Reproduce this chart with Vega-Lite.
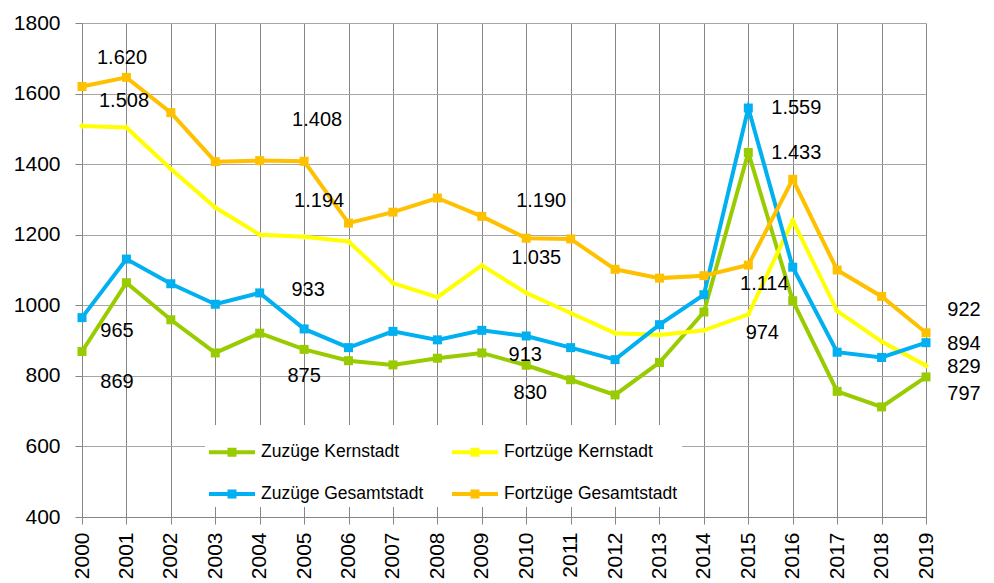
{
  "$schema": "https://vega.github.io/schema/vega-lite/v6.json",
  "autosize": {"type": "none"},
  "padding": {"left": 82, "top": 23, "right": 68, "bottom": 66},
  "width": 844,
  "height": 494,
  "background": "white",
  "config": {
    "locale": {"number": {"decimal": ",", "thousands": ".", "grouping": [3], "currency": ["", " €"]}},
    "font": "Liberation Sans",
    "view": {"stroke": null}
  },
  "data": {
    "values": [
      {"year": "2000", "series": "Zuzüge Kernstadt", "value": 869},
      {"year": "2001", "series": "Zuzüge Kernstadt", "value": 1064},
      {"year": "2002", "series": "Zuzüge Kernstadt", "value": 959},
      {"year": "2003", "series": "Zuzüge Kernstadt", "value": 865},
      {"year": "2004", "series": "Zuzüge Kernstadt", "value": 921},
      {"year": "2005", "series": "Zuzüge Kernstadt", "value": 875},
      {"year": "2006", "series": "Zuzüge Kernstadt", "value": 843},
      {"year": "2007", "series": "Zuzüge Kernstadt", "value": 831},
      {"year": "2008", "series": "Zuzüge Kernstadt", "value": 850},
      {"year": "2009", "series": "Zuzüge Kernstadt", "value": 865},
      {"year": "2010", "series": "Zuzüge Kernstadt", "value": 830},
      {"year": "2011", "series": "Zuzüge Kernstadt", "value": 789},
      {"year": "2012", "series": "Zuzüge Kernstadt", "value": 746},
      {"year": "2013", "series": "Zuzüge Kernstadt", "value": 838},
      {"year": "2014", "series": "Zuzüge Kernstadt", "value": 981},
      {"year": "2015", "series": "Zuzüge Kernstadt", "value": 1433},
      {"year": "2016", "series": "Zuzüge Kernstadt", "value": 1013},
      {"year": "2017", "series": "Zuzüge Kernstadt", "value": 756},
      {"year": "2018", "series": "Zuzüge Kernstadt", "value": 712},
      {"year": "2019", "series": "Zuzüge Kernstadt", "value": 797},
      {"year": "2000", "series": "Fortzüge Kernstadt", "value": 1508},
      {"year": "2001", "series": "Fortzüge Kernstadt", "value": 1504},
      {"year": "2002", "series": "Fortzüge Kernstadt", "value": 1386},
      {"year": "2003", "series": "Fortzüge Kernstadt", "value": 1277},
      {"year": "2004", "series": "Fortzüge Kernstadt", "value": 1200},
      {"year": "2005", "series": "Fortzüge Kernstadt", "value": 1194},
      {"year": "2006", "series": "Fortzüge Kernstadt", "value": 1181},
      {"year": "2007", "series": "Fortzüge Kernstadt", "value": 1063},
      {"year": "2008", "series": "Fortzüge Kernstadt", "value": 1023},
      {"year": "2009", "series": "Fortzüge Kernstadt", "value": 1113},
      {"year": "2010", "series": "Fortzüge Kernstadt", "value": 1035},
      {"year": "2011", "series": "Fortzüge Kernstadt", "value": 978},
      {"year": "2012", "series": "Fortzüge Kernstadt", "value": 921},
      {"year": "2013", "series": "Fortzüge Kernstadt", "value": 916},
      {"year": "2014", "series": "Fortzüge Kernstadt", "value": 929},
      {"year": "2015", "series": "Fortzüge Kernstadt", "value": 974},
      {"year": "2016", "series": "Fortzüge Kernstadt", "value": 1240},
      {"year": "2017", "series": "Fortzüge Kernstadt", "value": 984},
      {"year": "2018", "series": "Fortzüge Kernstadt", "value": 897},
      {"year": "2019", "series": "Fortzüge Kernstadt", "value": 829},
      {"year": "2000", "series": "Zuzüge Gesamtstadt", "value": 965},
      {"year": "2001", "series": "Zuzüge Gesamtstadt", "value": 1131},
      {"year": "2002", "series": "Zuzüge Gesamtstadt", "value": 1061},
      {"year": "2003", "series": "Zuzüge Gesamtstadt", "value": 1003},
      {"year": "2004", "series": "Zuzüge Gesamtstadt", "value": 1035},
      {"year": "2005", "series": "Zuzüge Gesamtstadt", "value": 933},
      {"year": "2006", "series": "Zuzüge Gesamtstadt", "value": 880},
      {"year": "2007", "series": "Zuzüge Gesamtstadt", "value": 926},
      {"year": "2008", "series": "Zuzüge Gesamtstadt", "value": 902},
      {"year": "2009", "series": "Zuzüge Gesamtstadt", "value": 929},
      {"year": "2010", "series": "Zuzüge Gesamtstadt", "value": 913},
      {"year": "2011", "series": "Zuzüge Gesamtstadt", "value": 880},
      {"year": "2012", "series": "Zuzüge Gesamtstadt", "value": 846},
      {"year": "2013", "series": "Zuzüge Gesamtstadt", "value": 945},
      {"year": "2014", "series": "Zuzüge Gesamtstadt", "value": 1030},
      {"year": "2015", "series": "Zuzüge Gesamtstadt", "value": 1559},
      {"year": "2016", "series": "Zuzüge Gesamtstadt", "value": 1108},
      {"year": "2017", "series": "Zuzüge Gesamtstadt", "value": 867},
      {"year": "2018", "series": "Zuzüge Gesamtstadt", "value": 852},
      {"year": "2019", "series": "Zuzüge Gesamtstadt", "value": 894},
      {"year": "2000", "series": "Fortzüge Gesamtstadt", "value": 1620},
      {"year": "2001", "series": "Fortzüge Gesamtstadt", "value": 1646},
      {"year": "2002", "series": "Fortzüge Gesamtstadt", "value": 1546},
      {"year": "2003", "series": "Fortzüge Gesamtstadt", "value": 1407},
      {"year": "2004", "series": "Fortzüge Gesamtstadt", "value": 1410},
      {"year": "2005", "series": "Fortzüge Gesamtstadt", "value": 1408},
      {"year": "2006", "series": "Fortzüge Gesamtstadt", "value": 1233},
      {"year": "2007", "series": "Fortzüge Gesamtstadt", "value": 1264},
      {"year": "2008", "series": "Fortzüge Gesamtstadt", "value": 1304},
      {"year": "2009", "series": "Fortzüge Gesamtstadt", "value": 1252},
      {"year": "2010", "series": "Fortzüge Gesamtstadt", "value": 1190},
      {"year": "2011", "series": "Fortzüge Gesamtstadt", "value": 1188},
      {"year": "2012", "series": "Fortzüge Gesamtstadt", "value": 1102},
      {"year": "2013", "series": "Fortzüge Gesamtstadt", "value": 1077},
      {"year": "2014", "series": "Fortzüge Gesamtstadt", "value": 1084},
      {"year": "2015", "series": "Fortzüge Gesamtstadt", "value": 1114},
      {"year": "2016", "series": "Fortzüge Gesamtstadt", "value": 1357},
      {"year": "2017", "series": "Fortzüge Gesamtstadt", "value": 1100},
      {"year": "2018", "series": "Fortzüge Gesamtstadt", "value": 1025},
      {"year": "2019", "series": "Fortzüge Gesamtstadt", "value": 922}
    ]
  },
  "encoding": {
    "x": {
      "field": "year", "type": "ordinal",
      "scale": {"type": "point", "padding": 0},
      "axis": {
        "title": null, "labelAngle": -90, "labelFontSize": 21, "labelColor": "black",
        "labelPadding": 8, "tickSize": 7, "tickColor": "#868686", "domainColor": "#868686",
        "grid": true, "gridColor": "#868686", "gridWidth": 1, "labelFont": "Liberation Sans"
      }
    },
    "y": {
      "field": "value", "type": "quantitative",
      "scale": {"domain": [400, 1800], "nice": false, "zero": false},
      "axis": {
        "title": null, "values": [400, 600, 800, 1000, 1200, 1400, 1600, 1800], "format": "d",
        "labelFontSize": 21, "labelColor": "black", "labelPadding": 15, "tickSize": 7,
        "tickColor": "#868686", "domainColor": "#868686", "grid": true, "gridColor": "#a6a6a6",
        "labelFont": "Liberation Sans"
      }
    }
  },
  "layer": [
    {
      "mark": {"type": "line", "strokeWidth": 4},
      "encoding": {
        "color": {
          "field": "series", "type": "nominal",
          "scale": {
            "domain": ["Zuzüge Kernstadt", "Zuzüge Gesamtstadt", "Fortzüge Kernstadt", "Fortzüge Gesamtstadt"],
            "range": ["#99cc00", "#00b0f0", "#ffff00", "#ffc000"]
          },
          "sort": null,
          "legend": {
            "title": null, "orient": "none", "legendX": 123, "legendY": 402, "columns": 2,
            "fillColor": "white", "padding": 4, "columnPadding": 28, "rowPadding": 10,
            "labelFontSize": 17.5, "labelFont": "Liberation Sans", "labelColor": "black", "labelOffset": 6,
            "labelLimit": 400,
            "symbolType": "M-1,-0.087H1V0.087H-1Z M-0.196,-0.196H0.196V0.196H-0.196Z",
            "symbolSize": 2116, "symbolStrokeWidth": 0,
            "encode": {
              "symbols": {
                "update": {
                  "fill": {"scale": "color", "field": "value"},
                  "opacity": {"value": 1}
                }
              }
            }
          }
        }
      }
    },
    {
      "transform": [{"filter": "datum.series != 'Fortzüge Kernstadt'"}],
      "mark": {"type": "point", "shape": "square", "filled": true, "size": 81, "opacity": 1},
      "encoding": {
        "color": {"field": "series", "type": "nominal", "legend": null}
      }
    },
    {
      "transform": [{"filter": "datum.series == 'Fortzüge Kernstadt'"}],
      "mark": {"type": "point", "shape": "diamond", "filled": true, "size": 40, "opacity": 1},
      "encoding": {
        "color": {"field": "series", "type": "nominal", "legend": null}
      }
    },
    {"transform": [{"filter": "datum.year == '2000' && datum.series == 'Fortzüge Gesamtstadt'"}], "mark": {"type": "text", "fontSize": 20, "dx": 40, "dy": -29, "color": "black"}, "encoding": {"text": {"field": "value", "type": "quantitative", "format": ",d"}}},
    {"transform": [{"filter": "datum.year == '2000' && datum.series == 'Fortzüge Kernstadt'"}], "mark": {"type": "text", "fontSize": 20, "dx": 42, "dy": -25, "color": "black"}, "encoding": {"text": {"field": "value", "type": "quantitative", "format": ",d"}}},
    {"transform": [{"filter": "datum.year == '2000' && datum.series == 'Zuzüge Gesamtstadt'"}], "mark": {"type": "text", "fontSize": 20, "dx": 35, "dy": 13, "color": "black"}, "encoding": {"text": {"field": "value", "type": "quantitative", "format": ",d"}}},
    {"transform": [{"filter": "datum.year == '2000' && datum.series == 'Zuzüge Kernstadt'"}], "mark": {"type": "text", "fontSize": 20, "dx": 35, "dy": 30, "color": "black"}, "encoding": {"text": {"field": "value", "type": "quantitative", "format": ",d"}}},
    {"transform": [{"filter": "datum.year == '2005' && datum.series == 'Fortzüge Gesamtstadt'"}], "mark": {"type": "text", "fontSize": 20, "dx": 13, "dy": -41, "color": "black"}, "encoding": {"text": {"field": "value", "type": "quantitative", "format": ",d"}}},
    {"transform": [{"filter": "datum.year == '2005' && datum.series == 'Fortzüge Kernstadt'"}], "mark": {"type": "text", "fontSize": 20, "dx": 15, "dy": -36, "color": "black"}, "encoding": {"text": {"field": "value", "type": "quantitative", "format": ",d"}}},
    {"transform": [{"filter": "datum.year == '2005' && datum.series == 'Zuzüge Gesamtstadt'"}], "mark": {"type": "text", "fontSize": 20, "dx": 4, "dy": -39, "color": "black"}, "encoding": {"text": {"field": "value", "type": "quantitative", "format": ",d"}}},
    {"transform": [{"filter": "datum.year == '2005' && datum.series == 'Zuzüge Kernstadt'"}], "mark": {"type": "text", "fontSize": 20, "dx": 0, "dy": 27, "color": "black"}, "encoding": {"text": {"field": "value", "type": "quantitative", "format": ",d"}}},
    {"transform": [{"filter": "datum.year == '2010' && datum.series == 'Fortzüge Gesamtstadt'"}], "mark": {"type": "text", "fontSize": 20, "dx": 15, "dy": -37, "color": "black"}, "encoding": {"text": {"field": "value", "type": "quantitative", "format": ",d"}}},
    {"transform": [{"filter": "datum.year == '2010' && datum.series == 'Fortzüge Kernstadt'"}], "mark": {"type": "text", "fontSize": 20, "dx": 10, "dy": -35, "color": "black"}, "encoding": {"text": {"field": "value", "type": "quantitative", "format": ",d"}}},
    {"transform": [{"filter": "datum.year == '2010' && datum.series == 'Zuzüge Gesamtstadt'"}], "mark": {"type": "text", "fontSize": 20, "dx": -1, "dy": 19, "color": "black"}, "encoding": {"text": {"field": "value", "type": "quantitative", "format": ",d"}}},
    {"transform": [{"filter": "datum.year == '2010' && datum.series == 'Zuzüge Kernstadt'"}], "mark": {"type": "text", "fontSize": 20, "dx": 4, "dy": 28, "color": "black"}, "encoding": {"text": {"field": "value", "type": "quantitative", "format": ",d"}}},
    {"transform": [{"filter": "datum.year == '2015' && datum.series == 'Zuzüge Gesamtstadt'"}], "mark": {"type": "text", "fontSize": 20, "dx": 48, "dy": 0, "color": "black"}, "encoding": {"text": {"field": "value", "type": "quantitative", "format": ",d"}}},
    {"transform": [{"filter": "datum.year == '2015' && datum.series == 'Zuzüge Kernstadt'"}], "mark": {"type": "text", "fontSize": 20, "dx": 48, "dy": 1, "color": "black"}, "encoding": {"text": {"field": "value", "type": "quantitative", "format": ",d"}}},
    {"transform": [{"filter": "datum.year == '2015' && datum.series == 'Fortzüge Gesamtstadt'"}], "mark": {"type": "text", "fontSize": 20, "dx": 16, "dy": 19, "color": "black"}, "encoding": {"text": {"field": "value", "type": "quantitative", "format": ",d"}}},
    {"transform": [{"filter": "datum.year == '2015' && datum.series == 'Fortzüge Kernstadt'"}], "mark": {"type": "text", "fontSize": 20, "dx": 14, "dy": 19, "color": "black"}, "encoding": {"text": {"field": "value", "type": "quantitative", "format": ",d"}}},
    {"transform": [{"filter": "datum.year == '2019' && datum.series == 'Fortzüge Gesamtstadt'"}], "mark": {"type": "text", "fontSize": 20, "dx": 38, "dy": -23, "color": "black"}, "encoding": {"text": {"field": "value", "type": "quantitative", "format": ",d"}}},
    {"transform": [{"filter": "datum.year == '2019' && datum.series == 'Zuzüge Gesamtstadt'"}], "mark": {"type": "text", "fontSize": 20, "dx": 38, "dy": 1, "color": "black"}, "encoding": {"text": {"field": "value", "type": "quantitative", "format": ",d"}}},
    {"transform": [{"filter": "datum.year == '2019' && datum.series == 'Fortzüge Kernstadt'"}], "mark": {"type": "text", "fontSize": 20, "dx": 38, "dy": 1, "color": "black"}, "encoding": {"text": {"field": "value", "type": "quantitative", "format": ",d"}}},
    {"transform": [{"filter": "datum.year == '2019' && datum.series == 'Zuzüge Kernstadt'"}], "mark": {"type": "text", "fontSize": 20, "dx": 38, "dy": 17, "color": "black"}, "encoding": {"text": {"field": "value", "type": "quantitative", "format": ",d"}}}
  ]
}
